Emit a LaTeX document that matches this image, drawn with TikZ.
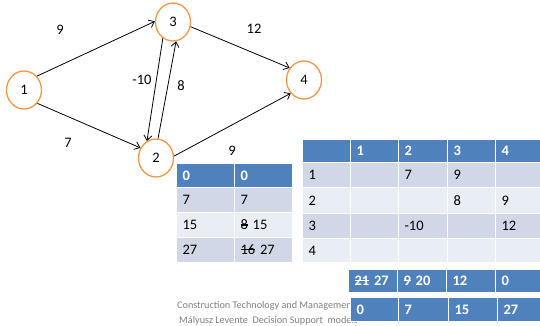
\documentclass[tikz,border=0pt]{standalone}
\usepackage{fontspec}
\setmainfont{Carlito}
\usetikzlibrary{shapes.geometric,arrows.meta}
\definecolor{hdr}{HTML}{4F81BD}
\definecolor{dk}{HTML}{D0D8E8}
\definecolor{lt}{HTML}{E9EDF4}
\definecolor{nodeor}{HTML}{F79646}
\definecolor{foot}{HTML}{7F7F7F}
\newcommand\strk[1]{\setbox0\hbox{#1}\rlap{\raisebox{0.3em}{\rule{\wd0}{0.075em}}}\box0\relax}
\newcommand\tcell[7]{\pgfmathsetmacro\tw{#4-12}\node[#6,minimum width=#4pt,minimum height=#5pt,text width=\tw pt] (#1) at (#2,#3) {#7};}
\begin{document}
\begin{tikzpicture}[x=1pt,y=-1pt,
 vtx/.style={ellipse,draw=nodeor,line width=1.3pt,minimum width=35pt,minimum height=38pt,inner sep=0pt,font=\fontsize{14.5}{16}\selectfont},
 edge/.style={-{Straight Barb[length=5pt,width=8pt]},line width=0.8pt},
 lbl/.style={font=\fontsize{14.5}{16}\selectfont,inner sep=0pt},
 cell/.style={draw=white,line width=1pt,anchor=north west,inner xsep=6pt,inner ysep=0pt,align=left,font=\fontsize{14.5}{16}\selectfont},
 hc/.style={cell,fill=hdr,text=white,font=\fontsize{14.5}{16}\selectfont\bfseries},
 dc/.style={cell,fill=dk},
 lc/.style={cell,fill=lt},
 foottext/.style={anchor=west,text=foot,inner sep=0pt,font=\fontsize{10.2}{12}\selectfont},
]
\useasboundingbox (0,0) rectangle (540,326);
% graph
\node[vtx] (n1) at (24,90) {1};
\node[vtx] (n3) at (173,22) {3};
\node[vtx] (n4) at (304,80) {4};
\node[vtx] (n2) at (156,158) {2};
\draw[edge] (n1.47) -- (n3.178);
\draw[edge] (n3.345) -- (n4.140);
\draw[edge] (n1.315) -- (n2.147);
\draw[edge] (n2.6) -- (n4.225);
\draw[edge] (n3.238) -- (n2.118);
\draw[edge] (n2.84) -- (n3.279);
\node[lbl] (l13) at (60,30) {9};
\node[lbl] (l34) at (254,29) {12};
\node[lbl] (l32) at (142,80) {-10};
\node[lbl] (l23) at (181,86) {8};
\node[lbl] (l12) at (68,143) {7};
\node[lbl] (l24) at (232,151) {9};
% left table
\tcell{a11}{176}{163}{58}{24}{hc}{0}
\tcell{a12}{234}{163}{58}{24}{hc}{0}
\tcell{a21}{176}{187}{58}{25}{dc}{7}
\tcell{a22}{234}{187}{58}{25}{dc}{7}
\tcell{a31}{176}{212}{58}{25}{lc}{15}
\tcell{a32}{234}{212}{58}{25}{lc}{\strk{8} 15}
\tcell{a41}{176}{237}{58}{25}{dc}{27}
\tcell{a42}{234}{237}{58}{25}{dc}{\strk{16} 27}
% right table
\tcell{b00}{302}{139}{48}{23}{hc}{}
\tcell{b01}{350}{139}{48}{23}{hc}{1}
\tcell{b02}{398}{139}{49}{23}{hc}{2}
\tcell{b03}{447}{139}{48}{23}{hc}{3}
\tcell{b04}{495}{139}{45}{23}{hc}{4}
\tcell{b10}{302}{162}{48}{25}{dc}{1}
\tcell{b11}{350}{162}{48}{25}{dc}{}
\tcell{b12}{398}{162}{49}{25}{dc}{7}
\tcell{b13}{447}{162}{48}{25}{dc}{9}
\tcell{b14}{495}{162}{45}{25}{dc}{}
\tcell{b20}{302}{187}{48}{26}{lc}{2}
\tcell{b21}{350}{187}{48}{26}{lc}{}
\tcell{b22}{398}{187}{49}{26}{lc}{}
\tcell{b23}{447}{187}{48}{26}{lc}{8}
\tcell{b24}{495}{187}{45}{26}{lc}{9}
\tcell{b30}{302}{213}{48}{25}{dc}{3}
\tcell{b31}{350}{213}{48}{25}{dc}{}
\tcell{b32}{398}{213}{49}{25}{dc}{-10}
\tcell{b33}{447}{213}{48}{25}{dc}{}
\tcell{b34}{495}{213}{45}{25}{dc}{12}
\tcell{b40}{302}{238}{48}{24}{lc}{4}
\tcell{b41}{350}{238}{48}{24}{lc}{}
\tcell{b42}{398}{238}{49}{24}{lc}{}
\tcell{b43}{447}{238}{48}{24}{lc}{}
\tcell{b44}{495}{238}{45}{24}{lc}{}
% footer
\node[foottext] (f1) at (177,306) {Construction Technology and Management};
\node[foottext] (f2) at (179,321) {Mályusz Levente\ \ Decision Support\ \ models};
% bottom rows
\tcell{c1}{348}{269}{49}{23}{hc}{\strk{21} 27}
\tcell{c2}{397}{269}{49}{23}{hc}{\strk{9} 20}
\tcell{c3}{446}{269}{49}{23}{hc}{12}
\tcell{c4}{495}{269}{45}{23}{hc}{0}
\tcell{d1}{350}{297}{48}{24}{hc}{0}
\tcell{d2}{398}{297}{50}{24}{hc}{7}
\tcell{d3}{448}{297}{49}{24}{hc}{15}
\tcell{d4}{497}{297}{43}{24}{hc}{27}
\end{tikzpicture}
\end{document}
